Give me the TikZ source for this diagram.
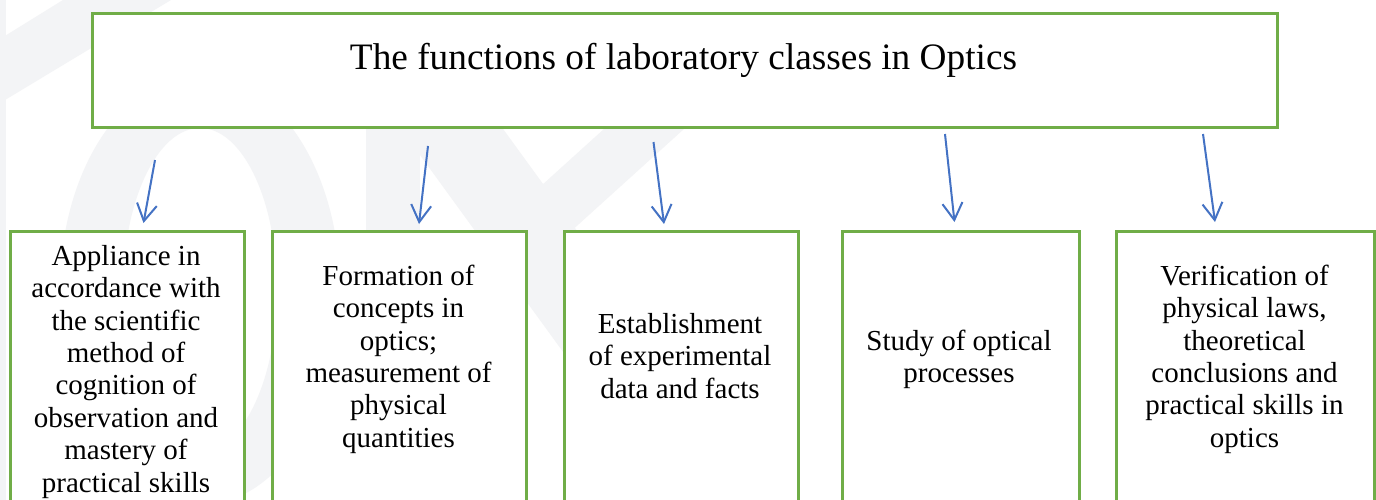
\documentclass[tikz,border=0pt]{standalone}
\usepackage{fontspec}
\setmainfont{Liberation Serif}
\usetikzlibrary{arrows.meta}

\definecolor{boxgreen}{HTML}{70AD47}
\definecolor{arrowblue}{HTML}{4472C4}
\definecolor{wmgray}{HTML}{F3F4F6}

\begin{document}
\begin{tikzpicture}[x=1pt,y=-1pt,
  frame/.style={draw=boxgreen, line width=2.6pt, fill=white, inner sep=0pt,
    anchor=north west},
  boxtext/.style={inner sep=0pt, anchor=north, align=center,
    font=\fontsize{29}{32.4}\selectfont},
  titletext/.style={inner sep=0pt, anchor=base,
    font=\fontsize{37.3}{44}\selectfont},
  arr/.style={draw=arrowblue, line width=2pt,
    -{Straight Barb[length=17pt,width=20pt,line width=2pt]}}
]
\clip (0,0) rectangle (1376,500);
\fill[white] (0,0) rectangle (1376,500);

% faint watermark in the background
\begin{scope}[wmgray]
  \fill (0,0) rectangle (6,500);
  \fill (0,39) -- (63,0) -- (171,0) -- (0,103) -- cycle;
  \fill[even odd rule] (200,290) ellipse [x radius=140, y radius=215]
                       (200,290) ellipse [x radius=77, y radius=162];
  \fill (366,100) rectangle (420,240);
  % crossing strokes
  \fill (380,100) -- (482,100) -- (700,400) -- (598,400) -- cycle;
  \fill (636,100) -- (716,100) -- (495,300) -- (415,300) -- cycle;
\end{scope}

% title box
\node[frame, minimum width=1185pt, minimum height=114pt] (top) at (91,12) {};
\node[titletext] (title) at (683.5,70) {The functions of laboratory classes in Optics};

% function boxes (they run past the lower edge)
\node[frame, minimum width=234pt, minimum height=300pt] (b1) at (9,230) {};
\node[frame, minimum width=254pt, minimum height=300pt] (b2) at (271,230) {};
\node[frame, minimum width=234pt, minimum height=300pt] (b3) at (563,230) {};
\node[frame, minimum width=237pt, minimum height=300pt] (b4) at (841,230) {};
\node[frame, minimum width=258pt, minimum height=300pt] (b5) at (1115,230) {};

% box texts: the 22pt strut fixes the first baseline
\node[boxtext] (t1) at (126,243) {\rule{0pt}{22pt}Appliance in\\accordance with\\the scientific\\method of\\cognition of\\observation and\\mastery of\\practical skills};
\node[boxtext] (t2) at (398.5,263) {\rule{0pt}{22pt}Formation of\\concepts in\\optics;\\measurement of\\physical\\quantities};
\node[boxtext] (t3) at (680,311) {\rule{0pt}{22pt}Establishment\\of experimental\\data and facts};
\node[boxtext] (t4) at (959,328) {\rule{0pt}{22pt}Study of optical\\processes};
\node[boxtext] (t5) at (1244.5,263) {\rule{0pt}{22pt}Verification of\\physical laws,\\theoretical\\conclusions and\\practical skills in\\optics};

% arrows from the title towards each box
\coordinate (s1) at (155,160);   \coordinate (e1) at (143.5,223);
\coordinate (s2) at (428,146);   \coordinate (e2) at (419,224);
\coordinate (s3) at (653.5,142); \coordinate (e3) at (664,224);
\coordinate (s4) at (945,134);   \coordinate (e4) at (954.5,222);
\coordinate (s5) at (1203,134);  \coordinate (e5) at (1215,222);
\draw[arr] (s1) -- (e1);
\draw[arr] (s2) -- (e2);
\draw[arr] (s3) -- (e3);
\draw[arr] (s4) -- (e4);
\draw[arr] (s5) -- (e5);
\end{tikzpicture}
\end{document}
